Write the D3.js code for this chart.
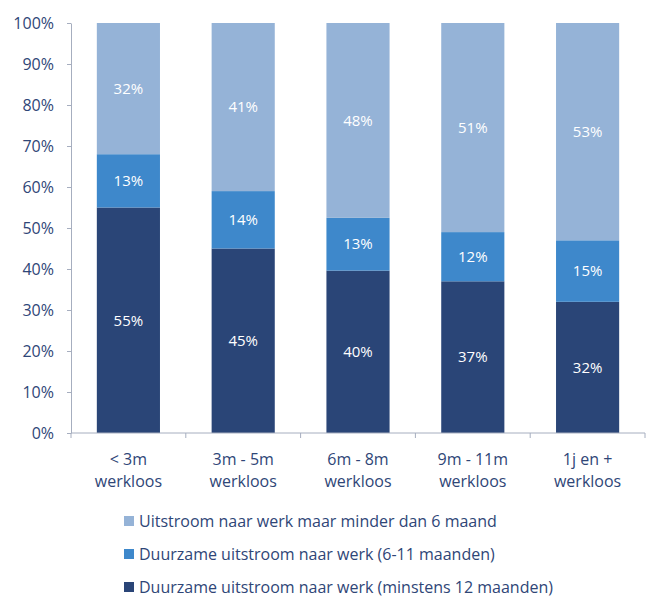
<!DOCTYPE html>
<html>
<head>
<meta charset="utf-8">
<script src="https://cdn.jsdelivr.net/npm/d3@7"></script>
<style>
  body { margin: 0; background: #fff; }
  text { font-family: "Open Sans", Lato, sans-serif; }
</style>
</head>
<body>
<div id="canvas"></div>
<script>
const categories = ["< 3m|werkloos", "3m - 5m|werkloos", "6m - 8m|werkloos", "9m - 11m|werkloos", "1j en +|werkloos"];
const minstens12 = [55, 45, 40, 37, 32];
const duurzaam611 = [13, 14, 13, 12, 15];
const minder6 = [32, 41, 48, 51, 53];
const seriesNames = [
    "Duurzame uitstroom naar werk (minstens 12 maanden)",
    "Duurzame uitstroom naar werk (6-11 maanden)",
    "Uitstroom naar werk maar minder dan 6 maand"
];
const yTicks = [0, 10, 20, 30, 40, 50, 60, 70, 80, 90, 100];

const colors = ["#2A4577", "#3E88CB", "#95B3D7"];
const textColor = "#2F4677";

const width = 646;
const height = 599;
const margin = { top: 23, left: 71, bottom: 166, right: 1 };
const iwidth = width - margin.left - margin.right;
const iheight = height - margin.top - margin.bottom;

const svg = d3.select("#canvas").append("svg")
    .attr("width", width)
    .attr("height", height);

const g = svg.append("g").attr("transform", `translate(${margin.left},${margin.top})`);

const table = categories.map((c, i) => ({ cat: c, s0: minstens12[i], s1: duurzaam611[i], s2: minder6[i] }));
const keys = ["s0", "s1", "s2"];
const stacked = d3.stack().keys(keys).offset(d3.stackOffsetExpand)(table);

const x = d3.scaleBand()
    .domain(categories)
    .range([0, iwidth])
    .paddingInner(0.45)
    .paddingOuter(0.225);

const xb = d3.scaleBand().domain(categories).range([0, iwidth]);

const y = d3.scaleLinear()
    .domain([0, 1])
    .range([iheight, 0]);

const layers = g.selectAll("g.layer").data(stacked).enter().append("g")
    .attr("class", "layer")
    .style("fill", (d, i) => colors[i]);

layers.selectAll("rect").data(d => d).enter().append("rect")
    .attr("x", d => x(d.data.cat))
    .attr("y", d => y(d[1]))
    .attr("width", x.bandwidth())
    .attr("height", d => y(d[0]) - y(d[1]));

layers.selectAll("text").data((d, i) => d.map(v => ({ v: v, key: keys[i] }))).enter().append("text")
    .attr("x", d => x(d.v.data.cat) + x.bandwidth() / 2)
    .attr("y", d => (y(d.v[0]) + y(d.v[1])) / 2)
    .attr("dy", "0.35em")
    .attr("text-anchor", "middle")
    .style("fill", "#fff")
    .style("font-size", "15px")
    .text(d => d.v.data[d.key] + "%");

// y axis
const yAxis = g.append("g")
    .call(d3.axisLeft(y).tickValues(yTicks.map(t => t / 100)).tickFormat(t => Math.round(t * 100) + "%").tickSize(4).tickSizeOuter(0));
yAxis.select(".domain").attr("stroke", "#A6AEBF");
yAxis.selectAll(".tick line").attr("stroke", "#A6AEBF");
yAxis.selectAll(".tick text")
    .attr("x", -17)
    .style("font-size", "16px")
    .style("fill", textColor);

// x axis
const xAxis = g.append("g").attr("transform", `translate(0,${iheight})`);
xAxis.append("line").attr("x1", 0).attr("x2", iwidth).attr("stroke", "#A6AEBF");
xAxis.selectAll("line.tk").data(categories).enter().append("line")
    .attr("class", "tk")
    .attr("x1", d => xb(d) + xb.bandwidth())
    .attr("x2", d => xb(d) + xb.bandwidth())
    .attr("y1", 0).attr("y2", 5)
    .attr("stroke", "#A6AEBF");
xAxis.append("line").attr("x1", 0).attr("x2", 0).attr("y1", 0).attr("y2", 5).attr("stroke", "#A6AEBF");
const xl = xAxis.selectAll("text").data(categories).enter().append("text")
    .attr("text-anchor", "middle")
    .attr("x", d => xb(d) + xb.bandwidth() / 2)
    .style("font-size", "16px")
    .style("fill", textColor);
xl.append("tspan").attr("x", d => xb(d) + xb.bandwidth() / 2).attr("y", 32).text(d => d.split("|")[0]);
xl.append("tspan").attr("x", d => xb(d) + xb.bandwidth() / 2).attr("y", 54).text(d => d.split("|")[1]);

// legend (top to bottom: reversed stack order)
const legendOrder = [2, 1, 0];
const legend = svg.append("g").attr("transform", "translate(124,521)");
legendOrder.forEach((k, i) => {
    const row = legend.append("g").attr("transform", `translate(0,${i * 33})`);
    row.append("rect").attr("x", 0).attr("y", -5).attr("width", 10).attr("height", 10).style("fill", colors[k]);
    row.append("text").attr("x", 15).attr("dy", "0.35em")
        .style("font-size", "16px")
        .style("fill", textColor)
        .text(seriesNames[k]);
});
</script>
</body>
</html>
